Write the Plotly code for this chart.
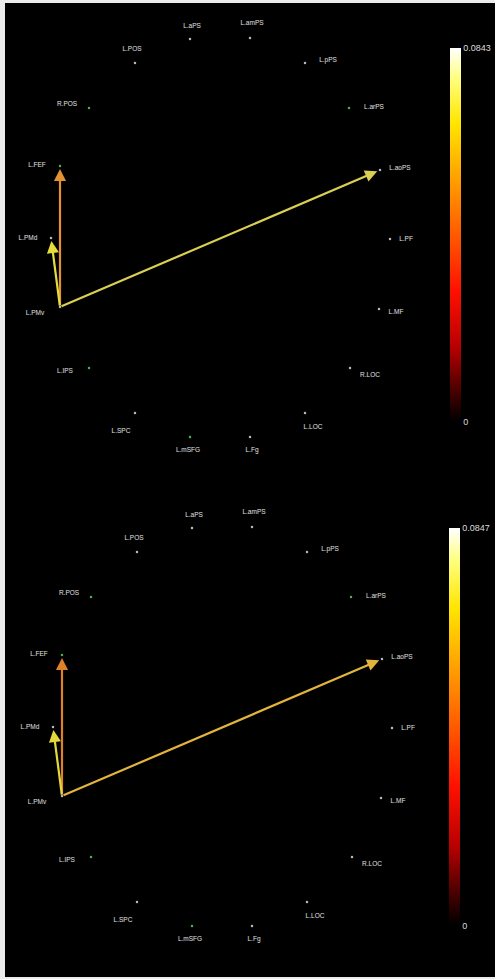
import plotly.graph_objects as go

W, H = 495, 979

# ---- data -------------------------------------------------------------
nodes = ["L.aPS", "L.amPS", "L.pPS", "L.arPS", "L.aoPS", "L.PF", "L.MF", "R.LOC", "L.LOC",
         "L.Fg", "L.mSFG", "L.SPC", "L.IPS", "L.PMv", "L.PMd", "L.FEF", "R.POS", "L.POS"]
# node layout coordinates
node_x = [190, 250, 305, 349, 380, 390, 379, 350, 305, 250, 190, 135, 89, 60, 51, 60, 89, 135]
node_y = [39, 38, 63, 108, 170, 239, 309, 368, 413, 437, 437, 413, 368, 307, 238, 166, 108, 63]

edge_src = ["L.PMv", "L.PMv", "L.PMv"]
edge_dst = ["L.FEF", "L.PMd", "L.aoPS"]
weights_top = [0.052, 0.068, 0.064]
weights_bottom = [0.050, 0.068, 0.060]

cbar_max = [0.0843, 0.0847]
cbar_ticktext_top = ["0", "0.0843"]
cbar_ticktext_bottom = ["0", "0.0847"]

# ---- styles -------------------------------------------------------------
label_dx = [2, 2, 23, 25, 20, 16, 17, 20, 8, 2, -2, -14, -24, -25, -23, -23, -22, -3]
label_dy = [-13, -15, -3, -1, -2, 0, 3, 7, 14, 13, 13, 18, 3, 6, 0, -1, -4, -14]
green, grey = "#4fb04f", "#b8b8b8"
dot_colors = [grey, grey, grey, green, grey, grey, grey, grey, grey,
              grey, green, grey, green, grey, grey, green, green, grey]
arrow_colors_top = ["#e39232", "#e6dc3c", "#d9cf52"]
arrow_colors_bottom = ["#dd8228", "#e4d93a", "#e2b43c"]

hot = [[0.0, "#000000"], [0.05, "#2a0000"], [0.2, "#b80000"], [0.35, "#ff1000"],
       [0.5, "#ff5a00"], [0.65, "#ffa000"], [0.8, "#ffe600"], [0.92, "#ffff80"],
       [1.0, "#ffffff"]]

fig = go.Figure()

panels = [
    dict(xa="x", ya="y", weights=weights_top, colors=arrow_colors_top,
         cmax=cbar_max[0], ttext=cbar_ticktext_top, cb_y=235, cb_len=374, cb_x=450),
    dict(xa="x2", ya="y2", weights=weights_bottom, colors=arrow_colors_bottom,
         cmax=cbar_max[1], ttext=cbar_ticktext_bottom, cb_y=727, cb_len=398, cb_x=449),
]

annotations = []
for p in panels:
    # node dots
    fig.add_trace(go.Scatter(
        x=node_x, y=node_y, mode="markers", xaxis=p["xa"], yaxis=p["ya"],
        marker=dict(size=2.5, color=dot_colors), hoverinfo="text", text=nodes,
        showlegend=False))
    # labels
    fig.add_trace(go.Scatter(
        x=[x + d for x, d in zip(node_x, label_dx)],
        y=[y + d for y, d in zip(node_y, label_dy)],
        mode="text", text=nodes, xaxis=p["xa"], yaxis=p["ya"],
        textfont=dict(size=6.5, color="#e0e0e0", family="Liberation Sans, Arial"),
        hoverinfo="skip", showlegend=False))
    # colorbar carrier
    fig.add_trace(go.Scatter(
        x=[None, None], y=[None, None], mode="markers", xaxis=p["xa"], yaxis=p["ya"],
        marker=dict(color=[0, p["cmax"]], cmin=0, cmax=p["cmax"], colorscale=hot,
                    showscale=True,
                    colorbar=dict(x=p["cb_x"] / W, xanchor="left",
                                  y=1 - p["cb_y"] / H, yanchor="middle",
                                  len=p["cb_len"], lenmode="pixels",
                                  thickness=11, thicknessmode="pixels",
                                  xpad=0, ypad=0, outlinewidth=0, ticks="",
                                  tickvals=[0, p["cmax"]], ticktext=p["ttext"],
                                  tickfont=dict(size=9, color="#dcdcdc",
                                                family="Liberation Sans, Arial"))),
        showlegend=False, hoverinfo="skip"))
    # arrows
    for s, d, w, c in zip(edge_src, edge_dst, p["weights"], p["colors"]):
        i, j = nodes.index(s), nodes.index(d)
        annotations.append(dict(
            x=node_x[j], y=node_y[j], ax=node_x[i], ay=node_y[i],
            xref=p["xa"], yref=p["ya"], axref=p["xa"], ayref=p["ya"],
            text="", showarrow=True, arrowhead=2, arrowsize=1.1, arrowwidth=2.2,
            arrowcolor=c, standoff=3, hovertext=f"{s} → {d}: {w}"))

top_h = 489
fig.update_layout(
    width=W, height=H, margin=dict(l=0, r=0, t=0, b=0),
    paper_bgcolor="#ececec", plot_bgcolor="rgba(0,0,0,0)",
    xaxis=dict(domain=[0, 1], range=[0, W], visible=False, fixedrange=True),
    yaxis=dict(domain=[1 - top_h / H, 1], range=[top_h, 0], visible=False, fixedrange=True),
    xaxis2=dict(domain=[0, 1], range=[-2, W - 2], visible=False, fixedrange=True),
    yaxis2=dict(domain=[0, 1 - top_h / H], range=[H - top_h, 0], visible=False, fixedrange=True),
    shapes=[dict(type="rect", xref="paper", yref="paper", x0=5 / W, x1=1,
                 y0=1 - 977 / H, y1=1 - 3 / H, fillcolor="#000000",
                 line=dict(width=0), layer="below")],
    annotations=annotations,
    showlegend=False,
)

fig.write_html(
    "out.html",
    config={"displayModeBar": False},
    post_script="document.body.style.margin='0';document.body.style.overflow='hidden';",
)
